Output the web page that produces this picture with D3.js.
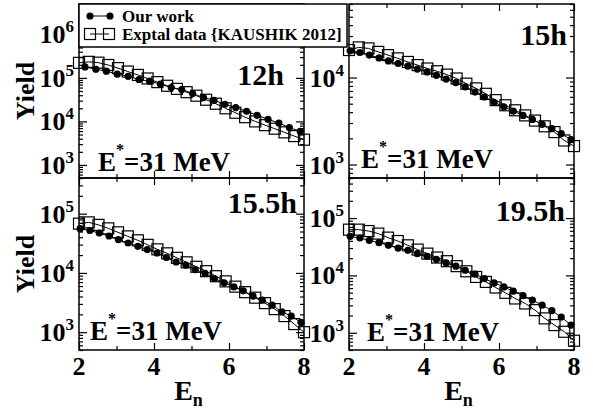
<!DOCTYPE html>
<html><head><meta charset="utf-8">
<script src="https://cdn.jsdelivr.net/npm/d3@7/dist/d3.min.js"></script>
<style>
body{margin:0;background:#fff}
svg{display:block}
svg text{font-family:'Liberation Serif','DejaVu Serif','Times New Roman',Times,serif;font-weight:700;fill:#000}
</style>
</head><body>
<svg id="chart" width="593" height="410"></svg>
<script>
// ---------- data ----------
const energyModel12 = [2.16,2.45,2.73,3.02,3.31,3.60,3.88,4.17,4.46,4.74,5.03,5.32,5.60,5.89,6.18,6.47,6.75,7.04,7.33,7.61,7.90];
const yieldModel12  = [1.79e5,1.58e5,1.43e5,1.22e5,1.09e5,9.2e4,8.4e4,7.2e4,6.0e4,5.4e4,4.37e4,3.53e4,3.06e4,2.48e4,2.08e4,1.71e4,1.38e4,1.12e4,9.2e3,7.2e3,5.9e3];

const energyModel = [2.03,2.29,2.54,2.80,3.05,3.31,3.57,3.82,4.08,4.33,4.59,4.85,5.10,5.36,5.61,5.87,6.13,6.38,6.64,6.89,7.15,7.41,7.66,7.92];
const energyExp   = [2.00,2.26,2.52,2.78,3.04,3.30,3.57,3.83,4.09,4.35,4.61,4.87,5.13,5.39,5.65,5.91,6.17,6.43,6.70,6.96,7.22,7.48,7.74,8.00];

const yieldExp12   = [2.22e5,2.34e5,2.24e5,1.98e5,1.68e5,1.40e5,1.17e5,9.7e4,8.0e4,6.6e4,5.6e4,4.7e4,3.9e4,3.15e4,2.55e4,2.0e4,1.58e4,1.25e4,1.0e4,8.2e3,6.8e3,5.6e3,4.6e3,3.8e3];

const yieldModel15 = [2.03e4,1.94e4,1.81e4,1.68e4,1.55e4,1.45e4,1.35e4,1.25e4,1.16e4,1.06e4,9.6e3,8.75e3,7.8e3,6.8e3,5.97e3,5.2e3,4.6e3,4.1e3,3.67e3,3.3e3,2.9e3,2.58e3,2.26e3,1.93e3];
const yieldExp15   = [2.07e4,2.22e4,2.16e4,1.97e4,1.81e4,1.66e4,1.51e4,1.39e4,1.27e4,1.18e4,1.08e4,9.75e3,8.5e3,7.5e3,6.5e3,5.5e3,4.8e3,4.2e3,3.67e3,3.2e3,2.75e3,2.36e3,1.89e3,1.63e3];

const yieldModel155 = [5.58e4,5.2e4,4.7e4,4.2e4,3.65e4,3.2e4,2.81e4,2.48e4,2.17e4,1.82e4,1.53e4,1.35e4,1.14e4,9.8e3,8.05e3,6.8e3,5.8e3,4.98e3,4.06e3,3.47e3,2.86e3,2.2e3,1.87e3,1.46e3];
const yieldExp155   = [6.78e4,7.13e4,6.47e4,5.65e4,4.84e4,4.14e4,3.55e4,2.98e4,2.5e4,2.14e4,1.8e4,1.51e4,1.27e4,1.07e4,8.8e3,7.2e3,5.86e3,4.73e3,3.82e3,3.09e3,2.45e3,1.87e3,1.37e3,1.0e3];

const yieldModel195 = [4.8e4,4.49e4,4.09e4,3.73e4,3.35e4,3.0e4,2.74e4,2.4e4,2.16e4,1.91e4,1.65e4,1.45e4,1.23e4,1.05e4,8.8e3,7.4e3,6.3e3,5.31e3,4.44e3,3.71e3,3.03e3,2.43e3,1.88e3,1.36e3];
const yieldExp195   = [6.28e4,6.28e4,5.94e4,5.36e4,4.56e4,3.98e4,3.35e4,2.82e4,2.4e4,2.05e4,1.77e4,1.45e4,1.18e4,9.4e3,7.7e3,6.15e3,4.97e3,3.96e3,3.24e3,2.48e3,1.78e3,1.36e3,1.04e3,7.26e2];

const panelLabels = ["12h","15h","15.5h","19.5h"];
const energyLabel = "E*=31 MeV";
const xMajorTicks = [2,4,6,8];
const xMinorTicks = [3,5,7];
const legendLabels = ["Our work","Exptal data {KAUSHIK 2012]"];

// ---------- layout ----------
const FONT = "'Liberation Serif','DejaVu Serif','Times New Roman',Times,serif";
const svg = d3.select("#chart");
const cols = [[79,304],[349,574]];
const rows = [[4,178],[178,350]];
const panels = [
  {c:0,r:0,domain:[500,5e6],mx:energyModel12,my:yieldModel12,ex:energyExp,ey:yieldExp12,label:panelLabels[0],lx:284,ly:85,ex0:98,ey0:171},
  {c:1,r:0,domain:[700,7e4],mx:energyModel,my:yieldModel15,ex:energyExp,ey:yieldExp15,label:panelLabels[1],lx:567,ly:45,ex0:361,ey0:168},
  {c:0,r:1,domain:[500,4e5],mx:energyModel,my:yieldModel155,ex:energyExp,ey:yieldExp155,label:panelLabels[2],lx:297,ly:213,ex0:90,ey0:340},
  {c:1,r:1,domain:[500,5e5],mx:energyModel,my:yieldModel195,ex:energyExp,ey:yieldExp195,label:panelLabels[3],lx:565,ly:221,ex0:367,ey0:341}
];

function minorLogTicks(domain){
  const out=[];
  const lo=Math.floor(Math.log10(domain[0])), hi=Math.ceil(Math.log10(domain[1]));
  for(let e=lo;e<=hi;e++) for(let m=2;m<=9;m++){const v=m*Math.pow(10,e); if(v>=domain[0]&&v<=domain[1]) out.push(v);}
  return out;
}
function majorLogTicks(domain){
  const out=[];
  for(let e=Math.ceil(Math.log10(domain[0]));e<=Math.floor(Math.log10(domain[1]));e++) out.push(Math.pow(10,e));
  return out;
}
function styleAxis(sel){
  sel.select(".domain").remove();
  sel.selectAll(".tick line").attr("stroke","#000").attr("stroke-width",1.2);
  sel.selectAll(".tick text").remove();
}
function txt(g){ return g.append("text").attr("font-family",FONT).attr("font-weight","bold").style("font-family",FONT).style("font-weight","bold"); }

panels.forEach(p=>{
  const [x0,x1]=cols[p.c], [y0,y1]=rows[p.r];
  const x=d3.scaleLinear().domain([2,8]).range([x0,x1]);
  const y=d3.scaleLog().domain(p.domain).range([y1,y0]);
  const g=svg.append("g");
  const maj=majorLogTicks(p.domain), min=minorLogTicks(p.domain);

  g.append("g").attr("transform",`translate(${x0},0)`).call(d3.axisLeft(y).tickValues(maj).tickSize(-8)).call(styleAxis);
  g.append("g").attr("transform",`translate(${x0},0)`).call(d3.axisLeft(y).tickValues(min).tickSize(-4)).call(styleAxis);
  g.append("g").attr("transform",`translate(${x1},0)`).call(d3.axisRight(y).tickValues(maj).tickSize(-8)).call(styleAxis);
  g.append("g").attr("transform",`translate(${x1},0)`).call(d3.axisRight(y).tickValues(min).tickSize(-4)).call(styleAxis);
  g.append("g").attr("transform",`translate(0,${y1})`).call(d3.axisBottom(x).tickValues(xMajorTicks).tickSize(-7)).call(styleAxis);
  g.append("g").attr("transform",`translate(0,${y1})`).call(d3.axisBottom(x).tickValues(xMinorTicks).tickSize(-4)).call(styleAxis);
  g.append("g").attr("transform",`translate(0,${y0})`).call(d3.axisTop(x).tickValues(xMajorTicks).tickSize(-7)).call(styleAxis);
  g.append("g").attr("transform",`translate(0,${y0})`).call(d3.axisTop(x).tickValues(xMinorTicks).tickSize(-4)).call(styleAxis);

  g.append("rect").attr("x",x0).attr("y",y0).attr("width",x1-x0).attr("height",y1-y0)
    .attr("fill","none").attr("stroke","#000").attr("stroke-width",1.5);

  maj.forEach(v=>{
    const e=Math.round(Math.log10(v));
    const t=txt(g).attr("x",x0-5).attr("y",y(v)+9).attr("text-anchor","end").style("font-size","26px");
    t.append("tspan").text("10");
    t.append("tspan").attr("dy",-11).style("font-size","17px").text(String(e));
  });

  if(p.r===1){
    xMajorTicks.forEach(v=>{
      txt(g).attr("x",x(v)).attr("y",375).attr("text-anchor","middle").style("font-size","26px").text(String(v));
    });
    const t=txt(g).attr("x",(x0+x1)/2-3).attr("y",400).attr("text-anchor","middle").style("font-size","28px");
    t.append("tspan").text("E");
    t.append("tspan").attr("dy",6).style("font-size","18px").text("n");
  }
  if(p.c===0){
    txt(g).attr("transform",`translate(34,${(y0+y1)/2})rotate(-90)`).attr("text-anchor","middle")
      .style("font-size","26px").text("Yield");
  }

  const line=d3.line().x(d=>x(d[0])).y(d=>y(d[1]));
  const model=p.mx.map((v,i)=>[v,p.my[i]]);
  const exp=p.ex.map((v,i)=>[v,p.ey[i]]);
  g.append("path").datum(model).attr("d",line).attr("fill","none").attr("stroke","#000").attr("stroke-width",1);
  g.selectAll(null).data(model).enter().append("circle").attr("cx",d=>x(d[0])).attr("cy",d=>y(d[1])).attr("r",3.6).attr("fill","#000");
  g.append("path").datum(exp).attr("d",line).attr("fill","none").attr("stroke","#000").attr("stroke-width",1);
  const s=11;
  g.selectAll(null).data(exp).enter().append("rect").attr("x",d=>x(d[0])-s/2).attr("y",d=>y(d[1])-s/2)
    .attr("width",s).attr("height",s).attr("fill","none").attr("stroke","#000").attr("stroke-width",1.2);

  txt(g).attr("x",p.lx).attr("y",p.ly).attr("text-anchor","end").style("font-size","30px").text(p.label);
  const et=txt(g).attr("x",p.ex0).attr("y",p.ey0).style("font-size","27px");
  et.append("tspan").text(energyLabel.slice(0,1));
  et.append("tspan").attr("dy",-16).style("font-size","16px").text(energyLabel.slice(1,2));
  et.append("tspan").attr("dy",16).text(energyLabel.slice(2));
});

const lg=svg.append("g");
lg.append("rect").attr("x",79).attr("y",4).attr("width",268).attr("height",43).attr("fill","#fff").attr("stroke","#000").attr("stroke-width",1.5);
lg.append("line").attr("x1",90).attr("x2",110).attr("y1",16).attr("y2",16).attr("stroke","#000").attr("stroke-width",1);
[90,110].forEach(cx=>lg.append("circle").attr("cx",cx).attr("cy",16).attr("r",3.6).attr("fill","#000"));
txt(lg).attr("x",122).attr("y",22).style("font-size","17px").text(legendLabels[0]);
lg.append("line").attr("x1",90).attr("x2",109).attr("y1",34).attr("y2",34).attr("stroke","#000").attr("stroke-width",1);
[90,109].forEach(cx=>lg.append("rect").attr("x",cx-5.5).attr("y",28.5).attr("width",11).attr("height",11).attr("fill","none").attr("stroke","#000").attr("stroke-width",1.2));
txt(lg).attr("x",122).attr("y",40).style("font-size","17px").text(legendLabels[1]);
</script>
</body></html>
